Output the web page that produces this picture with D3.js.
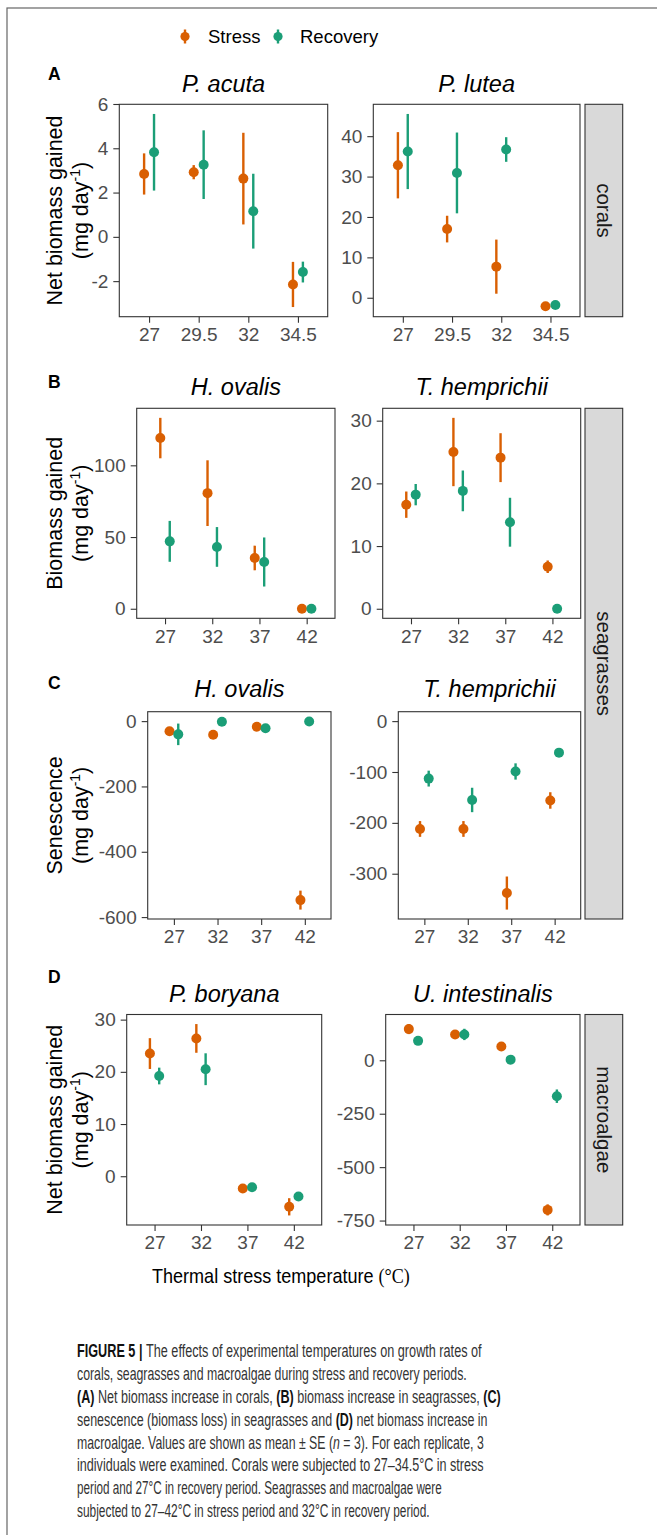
<!DOCTYPE html>
<html>
<head>
<meta charset="utf-8">
<script src="https://cdn.jsdelivr.net/npm/d3@7"></script>
<style>
  body { margin: 0; background: #fff; }
  svg { display: block; font-family: "Liberation Sans", Arial, sans-serif; }
</style>
</head>
<body>
<svg id="chart" width="657" height="1535"></svg>
<script>
// x categories
const tempsCorals = ['27', '29.5', '32', '34.5'];
const tempsOther = ['27', '32', '37', '42'];
const groups = ['Stress', 'Recovery'];

// A - corals (mean, SE)
const pAcutaStressMean = [2.84, 2.92, 2.63, -2.15];
const pAcutaStressSe = [0.93, 0.32, 2.07, 1.02];
const pAcutaRecoveryMean = [3.82, 3.26, 1.16, -1.59];
const pAcutaRecoverySe = [1.73, 1.55, 1.69, 0.47];
const pAcutaTicks = [-2, 0, 2, 4, 6];

const pLuteaStressMean = [32.8, 17.0, 7.7, -2.1];
const pLuteaStressSe = [8.2, 3.3, 6.7, 0.2];
const pLuteaRecoveryMean = [36.2, 30.9, 36.7, -1.8];
const pLuteaRecoverySe = [9.3, 10.0, 3.05, 0.2];
const pLuteaTicks = [0, 10, 20, 30, 40];

// B - seagrass biomass
const hOvalisStressMean = [119, 80.6, 35.4, 0];
const hOvalisStressSe = [14.1, 22.9, 8.6, 0];
const hOvalisRecoveryMean = [47.0, 43.1, 32.6, 0];
const hOvalisRecoverySe = [14.25, 13.85, 17.1, 0];
const hOvalisTicks = [0, 50, 100];

const tHempStressMean = [16.6, 25.0, 24.1, 6.7];
const tHempStressSe = [2.1, 5.45, 3.9, 1.0];
const tHempRecoveryMean = [18.2, 18.8, 13.8, 0];
const tHempRecoverySe = [1.7, 3.25, 3.9, 0];
const tHempTicks = [0, 10, 20, 30];

// C - seagrass senescence
const hOvalisSenStressMean = [-31, -41.5, -17, -548];
const hOvalisSenStressSe = [4, 4, 4, 29];
const hOvalisSenRecoveryMean = [-40.5, -2, -22, -1];
const hOvalisSenRecoverySe = [33, 2, 4, 1];
const hOvalisSenTicks = [-600, -400, -200, 0];

const tHempSenStressMean = [-212, -212, -338, -156];
const tHempSenStressSe = [15.5, 15.5, 32.5, 16.2];
const tHempSenRecoveryMean = [-113, -155, -99, -62];
const tHempSenRecoverySe = [15.6, 24, 16, 4];
const tHempSenTicks = [-300, -200, -100, 0];

// D - macroalgae
const pBoryanaStressMean = [23.5, 26.4, -2.36, -5.86];
const pBoryanaStressSe = [2.95, 2.75, 0.3, 1.65];
const pBoryanaRecoveryMean = [19.2, 20.5, -2.1, -3.9];
const pBoryanaRecoverySe = [1.6, 3.05, 0.3, 0.3];
const pBoryanaTicks = [0, 10, 20, 30];

const uIntStressMean = [146, 121, 64.5, -700];
const uIntStressSe = [23.5, 5, 5, 26];
const uIntRecoveryMean = [91, 121, 3, -168];
const uIntRecoverySe = [5, 26.5, 5, 31.5];
const uIntTicks = [-750, -500, -250, 0];

const colour = { Stress: '#d95f02', Recovery: '#1b9e77' };
const FONT = '"Liberation Sans", Arial, sans-serif';

const svg = d3.select('#chart');

// outer frame of the figure
svg.append('rect')
    .attr('x', 7).attr('y', 8)
    .attr('width', 700).attr('height', 1600)
    .attr('fill', 'none').attr('stroke', '#666').attr('stroke-width', 1.2);

// squeeze a text horizontally so it spans a given width (left or middle anchored)
function fitWidth(sel, x, w, anchor) {
    const natural = sel.node().getComputedTextLength();
    const k = w / natural;
    sel.attr('transform', `translate(${x},0) scale(${k},1) translate(${-x},0)`);
}

// rows of the grid: layout only
const rows = [
    { label: 'A', ytitle: 'Net biomass gained', y0: 104.3, y1: 316.7, left: [119.3, 327.7], right: [373.3, 580], titleY: 92, labelY: 80 },
    { label: 'B', ytitle: 'Biomass gained', y0: 408.3, y1: 618.3, left: [136.7, 335], right: [382.7, 580.7], titleY: 395, labelY: 388 },
    { label: 'C', ytitle: 'Senescence', y0: 711.7, y1: 919, left: [147.7, 331], right: [398.3, 580.7], titleY: 697, labelY: 689 },
    { label: 'D', ytitle: 'Net biomass gained', y0: 1014.5, y1: 1225, left: [126.7, 321.7], right: [385.7, 580], titleY: 1002, labelY: 983 }
];

const panels = [
    { row: 0, side: 'left', title: 'P. acuta', temps: tempsCorals, ticks: pAcutaTicks,
      mean: { Stress: pAcutaStressMean, Recovery: pAcutaRecoveryMean }, se: { Stress: pAcutaStressSe, Recovery: pAcutaRecoverySe } },
    { row: 0, side: 'right', title: 'P. lutea', temps: tempsCorals, ticks: pLuteaTicks,
      mean: { Stress: pLuteaStressMean, Recovery: pLuteaRecoveryMean }, se: { Stress: pLuteaStressSe, Recovery: pLuteaRecoverySe } },
    { row: 1, side: 'left', title: 'H. ovalis', temps: tempsOther, ticks: hOvalisTicks,
      mean: { Stress: hOvalisStressMean, Recovery: hOvalisRecoveryMean }, se: { Stress: hOvalisStressSe, Recovery: hOvalisRecoverySe } },
    { row: 1, side: 'right', title: 'T. hemprichii', temps: tempsOther, ticks: tHempTicks,
      mean: { Stress: tHempStressMean, Recovery: tHempRecoveryMean }, se: { Stress: tHempStressSe, Recovery: tHempRecoverySe } },
    { row: 2, side: 'left', title: 'H. ovalis', temps: tempsOther, ticks: hOvalisSenTicks,
      mean: { Stress: hOvalisSenStressMean, Recovery: hOvalisSenRecoveryMean }, se: { Stress: hOvalisSenStressSe, Recovery: hOvalisSenRecoverySe } },
    { row: 2, side: 'right', title: 'T. hemprichii', temps: tempsOther, ticks: tHempSenTicks,
      mean: { Stress: tHempSenStressMean, Recovery: tHempSenRecoveryMean }, se: { Stress: tHempSenStressSe, Recovery: tHempSenRecoverySe } },
    { row: 3, side: 'left', title: 'P. boryana', temps: tempsOther, ticks: pBoryanaTicks,
      mean: { Stress: pBoryanaStressMean, Recovery: pBoryanaRecoveryMean }, se: { Stress: pBoryanaStressSe, Recovery: pBoryanaRecoverySe } },
    { row: 3, side: 'right', title: 'U. intestinalis', temps: tempsOther, ticks: uIntTicks,
      mean: { Stress: uIntStressMean, Recovery: uIntRecoveryMean }, se: { Stress: uIntStressSe, Recovery: uIntRecoverySe } }
];

panels.forEach(p => {
    const r = rows[p.row];
    const [x0, x1] = r[p.side];
    const g = svg.append('g');

    // discrete x like ggplot (expand 0.6)
    const x = d3.scalePoint().domain(p.temps).range([x0, x1]).padding(0.6);

    // y range from all mean +- se, including 0, with 5% expansion
    const vals = [0];
    groups.forEach(k => p.mean[k].forEach((m, i) => {
        vals.push(m - p.se[k][i], m + p.se[k][i]);
    }));
    const ext = d3.extent(vals);
    const pad = (ext[1] - ext[0]) * 0.05;
    const y = d3.scaleLinear().domain([ext[0] - pad, ext[1] + pad]).range([r.y1, r.y0]);

    g.append('rect')
        .attr('x', x0).attr('y', r.y0)
        .attr('width', x1 - x0).attr('height', r.y1 - r.y0)
        .attr('fill', '#fff');

    const yAxis = g.append('g')
        .attr('transform', `translate(${x0},0)`)
        .call(d3.axisLeft(y).tickValues(p.ticks).tickSize(6).tickPadding(5).tickFormat(d3.format('d')));
    const xAxis = g.append('g')
        .attr('transform', `translate(0,${r.y1})`)
        .call(d3.axisBottom(x).tickSize(6).tickPadding(5));
    [yAxis, xAxis].forEach(a => {
        a.attr('font-family', null).attr('font-size', null);
        a.select('.domain').remove();
        a.selectAll('line').attr('stroke', '#333').attr('stroke-width', 1.1);
        a.selectAll('text').attr('fill', '#4d4d4d').style('font-size', '19px')
            .style('font-family', FONT);
    });
    yAxis.selectAll('text').text(d => d < 0 ? '-' + Math.abs(d) : d);

    const dodge = { Stress: -0.1 * x.step(), Recovery: 0.1 * x.step() };
    const pts = [];
    groups.forEach(k => p.temps.forEach((t, i) => {
        pts.push({ group: k, temp: t, mean: p.mean[k][i], se: p.se[k][i] });
    }));

    g.append('g').selectAll('line')
        .data(pts)
        .join('line')
        .attr('x1', d => x(d.temp) + dodge[d.group])
        .attr('x2', d => x(d.temp) + dodge[d.group])
        .attr('y1', d => y(d.mean - d.se))
        .attr('y2', d => y(d.mean + d.se))
        .attr('stroke', d => colour[d.group])
        .attr('stroke-width', 2.4);

    g.append('g').selectAll('circle')
        .data(pts)
        .join('circle')
        .attr('cx', d => x(d.temp) + dodge[d.group])
        .attr('cy', d => y(d.mean))
        .attr('r', 5)
        .attr('fill', d => colour[d.group]);

    g.append('rect')
        .attr('x', x0).attr('y', r.y0)
        .attr('width', x1 - x0).attr('height', r.y1 - r.y0)
        .attr('fill', 'none').attr('stroke', '#333').attr('stroke-width', 1.1);

    g.append('text')
        .attr('x', (x0 + x1) / 2).attr('y', r.titleY)
        .attr('text-anchor', 'middle')
        .style('font-size', '23.5px').style('font-style', 'italic')
        .attr('fill', '#000')
        .text(p.title);
});

// row labels and y titles
rows.forEach(r => {
    svg.append('text')
        .attr('x', 48).attr('y', r.labelY)
        .style('font-size', '17.5px').style('font-weight', 'bold')
        .text(r.label);

    const cy = (r.y0 + r.y1) / 2;
    svg.append('text')
        .attr('transform', `translate(62,${cy}) rotate(-90)`)
        .attr('text-anchor', 'middle')
        .style('font-size', '21.5px')
        .text(r.ytitle);
    const unit = svg.append('text')
        .attr('transform', `translate(87.5,${cy}) rotate(-90)`)
        .attr('text-anchor', 'middle')
        .style('font-size', '21.5px');
    unit.append('tspan').text('(mg day');
    unit.append('tspan').attr('dy', -8).style('font-size', '14px').text('-1');
    unit.append('tspan').attr('dy', 8).text(')');
});

// facet strips on the right
const strips = [
    { text: 'corals', y0: 104.3, y1: 316.7 },
    { text: 'seagrasses', y0: 408.3, y1: 919 },
    { text: 'macroalgae', y0: 1014.5, y1: 1225 }
];
strips.forEach(s => {
    svg.append('rect')
        .attr('x', 585).attr('y', s.y0)
        .attr('width', 37.7).attr('height', s.y1 - s.y0)
        .attr('fill', '#d9d9d9').attr('stroke', '#333').attr('stroke-width', 1.1);
    svg.append('text')
        .attr('transform', `translate(${585 + 37.7 / 2 - 7},${(s.y0 + s.y1) / 2}) rotate(90)`)
        .attr('text-anchor', 'middle')
        .style('font-size', '20.5px')
        .attr('fill', '#1a1a1a')
        .text(s.text);
});

// legend
const legendItems = [
    { group: 'Stress', x: 185, tx: 208 },
    { group: 'Recovery', x: 278, tx: 300 }
];
legendItems.forEach(l => {
    svg.append('line')
        .attr('x1', l.x).attr('x2', l.x).attr('y1', 29.5).attr('y2', 43.5)
        .attr('stroke', colour[l.group]).attr('stroke-width', 2.4);
    svg.append('circle').attr('cx', l.x).attr('cy', 36.5).attr('r', 4.6).attr('fill', colour[l.group]);
    svg.append('text').attr('x', l.tx).attr('y', 43.3)
        .style('font-size', '18.5px').text(l.group);
});

// x axis title
const xt = svg.append('text')
    .attr('x', 152).attr('y', 1283)
    .style('font-size', '20.5px');
xt.append('tspan').text('Thermal stress temperature ');
xt.append('tspan').style('font-family', '"Liberation Serif", "Times New Roman", serif').text('(°C)');
fitWidth(xt, 152, 258);

// caption
const capLines = [
    { w: 405, parts: [['FIGURE 5 | ', 'b'], ['The effects of experimental temperatures on growth rates of']] },
    { w: 390, parts: [['corals, seagrasses and macroalgae during stress and recovery periods.']] },
    { w: 424, parts: [['(A)', 'b'], [' Net biomass increase in corals, '], ['(B)', 'b'], [' biomass increase in seagrasses, '], ['(C)', 'b']] },
    { w: 411, parts: [['senescence (biomass loss) in seagrasses and '], ['(D)', 'b'], [' net biomass increase in']] },
    { w: 407, parts: [['macroalgae. Values are shown as mean ± SE ('], ['n', 'i'], [' = 3). For each replicate, 3']] },
    { w: 407, parts: [['individuals were examined. Corals were subjected to 27–34.5°C in stress']] },
    { w: 365, parts: [['period and 27°C in recovery period. Seagrasses and macroalgae were']] },
    { w: 353, parts: [['subjected to 27–42°C in stress period and 32°C in recovery period.']] }
];
capLines.forEach((line, i) => {
    const t = svg.append('text')
        .attr('x', 77).attr('y', 1357 + i * 22.9)
        .style('font-size', '18.5px')
        .attr('fill', '#333');
    line.parts.forEach(([txt, st]) => {
        const ts = t.append('tspan').text(txt);
        if (st === 'b') ts.style('font-weight', 'bold').attr('fill', '#111');
        if (st === 'i') ts.style('font-style', 'italic');
    });
    fitWidth(t, 77, line.w);
});
</script>
</body>
</html>
